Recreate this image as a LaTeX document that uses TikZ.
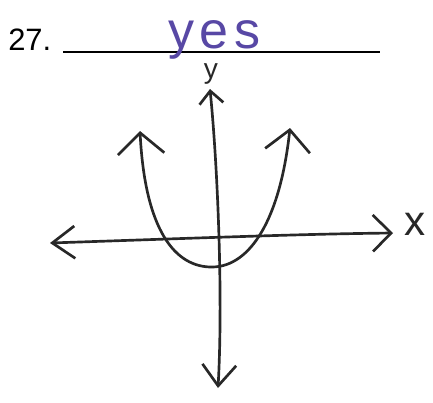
\documentclass[tikz,border=0pt]{standalone}
\usepackage{fontspec}
\setmainfont{Liberation Sans}
\usepackage{xcolor}
\usepackage{tikz}
\usetikzlibrary{arrows.meta}
\definecolor{penblue}{RGB}{88,72,165}
\definecolor{pencil}{RGB}{40,40,40}

\begin{document}
\begin{tikzpicture}[
      x=0.025cm, y=-0.025cm,
      hand/.style={draw=pencil, line width=1.9pt, line cap=round, line join=round},
      lbl/.style={text=pencil, inner sep=0pt}
    ]
      \useasboundingbox (0,0) rectangle (433,402);
      % question number and answer line
      \node[anchor=base west, inner sep=0pt, font=\fontsize{22}{26}\selectfont] (num) at (8,50) {27.};
      \draw[draw=black, line width=1pt] (63,52) -- (380,52);
      \node[anchor=base west, inner sep=0pt, text=penblue, font=\fontsize{37}{42}\selectfont] (ans) at (168,48) {y\kern4pt e\kern4pt s};
      % axes
      \draw[hand, {Straight Barb[length=9pt,width=17pt]}-{Straight Barb[length=15pt,width=24pt]}]
        (210,89) .. controls (218,170) and (223,300) .. (218,388);
      \draw[hand, {Straight Barb[length=16pt,width=23pt]}-{Straight Barb[length=13pt,width=26pt]}]
        (50,243) .. controls (200,238) and (300,234) .. (393,233);
      \node[lbl, font=\fontsize{20}{24}\selectfont] (ylab) at (211,74) {y};
      \node[lbl, font=\fontsize{30}{34}\selectfont] (xlab) at (415,224) {x};
      % parabola
      \draw[hand, {Straight Barb[length=15pt,width=33pt]}-{Straight Barb[length=15pt,width=32pt]}]
        (140,131) .. controls (145,230) and (175,268) .. (213,267)
                  .. controls (250,266) and (280,220) .. (290,128);
    \end{tikzpicture}
\end{document}
